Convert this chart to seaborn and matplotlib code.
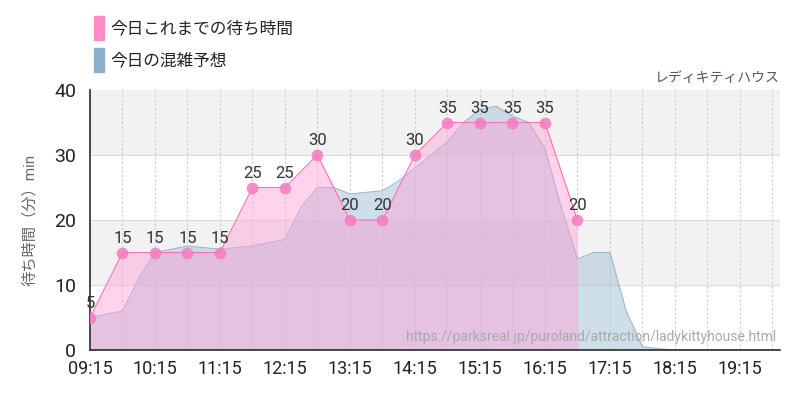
import matplotlib
matplotlib.use("Agg")
import matplotlib.pyplot as plt
import seaborn as sns
import numpy as np

sns.set_theme(style="white")
plt.rcParams['font.family'] = ['Roboto', 'Noto Sans CJK JP', 'DejaVu Sans']

# actual wait times (minutes since 09:15)
actual_t = [0, 30, 60, 90, 120, 150, 180, 210, 240, 270, 300, 330, 360, 390, 420, 450]
actual_v = [5, 15, 15, 15, 15, 25, 25, 30, 20, 20, 30, 35, 35, 35, 35, 20]
# forecast
fc_t = [0, 30, 45, 60, 90, 120, 150, 180, 195, 210, 225, 240, 270, 285, 300, 330, 345, 360, 375, 390, 405, 420, 435, 450, 465, 480, 495, 510, 525, 540, 630, 637]
fc_v = [5, 6, 11, 15, 16, 15.5, 16, 17, 22, 25, 25, 24, 24.5, 26, 28, 32, 35, 37, 37.5, 36, 35, 31, 22, 14, 15, 15, 6, 0.5, 0.2, 0, 0, 0]
tick_labels = ["09:15", "10:15", "11:15", "12:15", "13:15", "14:15", "15:15", "16:15", "17:15", "18:15", "19:15"]

fig = plt.figure(figsize=(8, 4), dpi=100)
ax = fig.add_axes([90/800, 50/400, 690/800, 260/400])
ax.set_xlim(0, 637)
ax.set_ylim(0, 40)
for lo, hi in [(10, 20), (30, 40)]:
    ax.axhspan(lo, hi, color="#f2f2f2", zorder=0)
for y in [10, 20, 30]:
    ax.axhline(y, color="#dddddd", lw=0.8, zorder=0)
for x in range(30, 637, 30):
    ax.axvline(x, color="#cccccc", lw=0.8, ls=(0, (2, 2)), zorder=0)

ax.fill_between(fc_t, fc_v, color="#a9c6da", alpha=0.55, lw=0, zorder=1)
ax.plot(fc_t, fc_v, color="#9ab8cc", lw=0.8, zorder=1)
ax.fill_between(actual_t + [450], actual_v + [0], color="#ff9fd6", alpha=0.45, lw=0, zorder=2)
ax.plot(actual_t, actual_v, color="#ff6fb5", lw=0.8, zorder=3)
sns.scatterplot(x=actual_t, y=actual_v, ax=ax, color="#f47cc0", s=60, edgecolor="#f47cc0", alpha=0.85, zorder=4, legend=False)
for t, v in zip(actual_t, actual_v):
    ax.text(t, v + 2.2, str(v), ha="center", va="center", fontsize=12, color="#333333", zorder=5)

ax.set_xticks(range(0, 637, 60))
ax.set_xticklabels(tick_labels, fontsize=13, color="#222222")
ax.set_yticks([0, 10, 20, 30, 40])
ax.set_yticklabels(["0", "10", "20", "30", "40"], fontsize=14, color="#222222")
ax.tick_params(axis="x", length=4, color="#333333", pad=3)
ax.tick_params(axis="y", length=4, color="#333333", pad=6)
for s in ["top", "right"]:
    ax.spines[s].set_visible(False)
ax.spines["left"].set_color("#333333")
ax.spines["bottom"].set_color("#333333")
ax.set_ylabel("待ち時間（分）min", fontsize=11, color="#666666", labelpad=12)

ax.text(1.0, 1.02, "レディキティハウス", transform=ax.transAxes, ha="right", va="bottom", fontsize=10, color="#555555")
ax.text(0.995, 0.05, "https://parksreal.jp/puroland/attraction/ladykittyhouse.html", transform=ax.transAxes, ha="right", va="center", fontsize=10, color="#aaaaaa")

fig.patches.append(plt.Rectangle((94/800, 1-40/400), 10/800, 24/400, transform=fig.transFigure, color="#ff8cc6"))
fig.patches.append(plt.Rectangle((94/800, 1-72/400), 10/800, 24/400, transform=fig.transFigure, color="#8fb0cc"))
fig.text(110/800, 1-28/400, "今日これまでの待ち時間", fontsize=12, va="center", color="#222222")
fig.text(110/800, 1-60/400, "今日の混雑予想", fontsize=12, va="center", color="#222222")

fig.savefig("out.png", dpi=100)
